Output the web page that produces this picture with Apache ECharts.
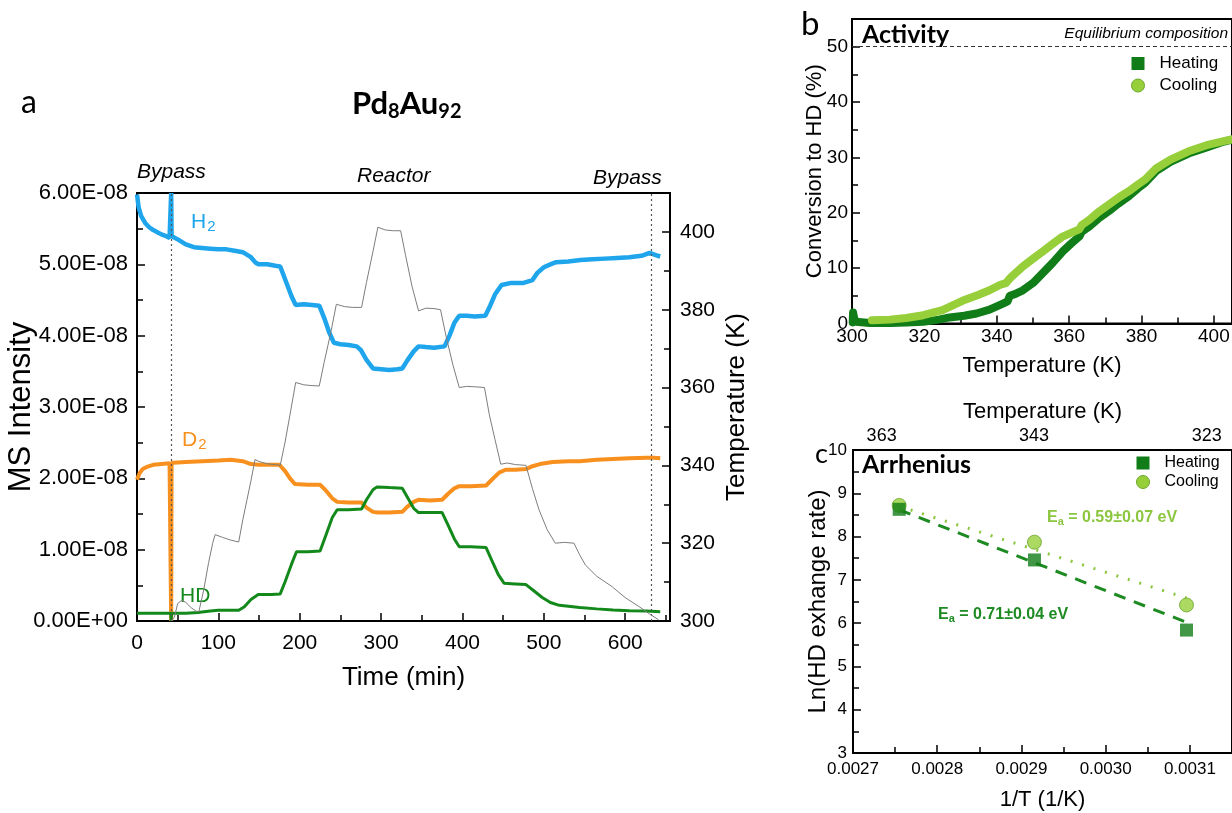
<!DOCTYPE html>
<html><head><meta charset="utf-8">
<script src="https://cdn.jsdelivr.net/npm/echarts@6/dist/echarts.min.js"></script>
<style>html,body{margin:0;padding:0;background:#fff}#c{width:1232px;height:813px}</style>
</head><body><div id="c"></div>
<script>
// ---------- Panel a : MS intensity (units of 1E-08) vs time (min) ----------
const h2Data = [[0,5.98],[2,5.80],[5,5.68],[10,5.58],[15,5.52],[20,5.48],[25,5.45],[30,5.42],[35,5.40],[40,5.37],[41.5,5.38],[42,6.0],[42.5,5.40],[45,5.38],[50,5.35],[60,5.28],[70,5.24],[80,5.23],[90,5.22],[100,5.21],[110,5.21],[120,5.19],[130,5.17],[140,5.10],[146,5.02],[150,5.00],[160,5.00],[170,4.98],[176,4.97],[180,4.85],[185,4.70],[190,4.55],[195,4.43],[205,4.44],[215,4.43],[224,4.42],[230,4.25],[236,4.05],[242,3.90],[250,3.88],[260,3.87],[270,3.85],[275,3.80],[282,3.66],[290,3.54],[300,3.53],[310,3.52],[320,3.53],[326,3.54],[332,3.65],[340,3.78],[346,3.85],[355,3.84],[365,3.83],[378,3.85],[384,4.00],[390,4.18],[396,4.28],[405,4.28],[415,4.27],[428,4.28],[434,4.42],[440,4.58],[448,4.71],[460,4.74],[475,4.74],[486,4.78],[492,4.88],[500,4.96],[508,5.00],[515,5.03],[530,5.04],[545,5.06],[560,5.07],[575,5.08],[590,5.09],[605,5.10],[620,5.12],[630,5.16],[635,5.14],[640,5.12],[643,5.11]];
const d2Data = [[0,1.98],[3,2.07],[7,2.13],[12,2.16],[20,2.19],[30,2.20],[40,2.21],[41.5,2.21],[42,0],[42.5,2.22],[45,2.22],[60,2.23],[80,2.24],[100,2.25],[115,2.26],[130,2.24],[140,2.20],[150,2.19],[165,2.19],[175,2.19],[182,2.10],[188,2.00],[194,1.92],[210,1.91],[225,1.91],[232,1.83],[240,1.72],[246,1.67],[260,1.66],[276,1.66],[282,1.59],[290,1.53],[296,1.52],[310,1.52],[326,1.53],[332,1.60],[340,1.67],[346,1.70],[360,1.69],[375,1.70],[382,1.78],[390,1.86],[396,1.89],[410,1.89],[429,1.90],[436,1.98],[445,2.08],[453,2.12],[465,2.12],[478,2.13],[486,2.17],[495,2.20],[511,2.23],[530,2.24],[544,2.24],[565,2.26],[585,2.27],[605,2.28],[626,2.29],[635,2.29],[643,2.28]];
const hdData = [[0,0.11],[41.5,0.11],[42,0.0],[42.5,0.11],[60,0.11],[75,0.12],[90,0.14],[100,0.15],[125,0.15],[132,0.20],[140,0.30],[149,0.37],[165,0.37],[176,0.38],[182,0.55],[190,0.80],[196,0.97],[210,0.97],[225,0.98],[232,1.20],[240,1.45],[246,1.56],[260,1.56],[276,1.57],[282,1.70],[290,1.84],[295,1.88],[310,1.87],[326,1.86],[333,1.72],[340,1.58],[346,1.52],[360,1.52],[375,1.52],[382,1.35],[390,1.15],[396,1.04],[410,1.04],[429,1.03],[436,0.85],[444,0.65],[451,0.53],[465,0.52],[478,0.51],[488,0.42],[498,0.33],[508,0.26],[519,0.22],[544,0.19],[565,0.17],[585,0.155],[605,0.145],[626,0.14],[643,0.13]];
const tempData = [[42,300],[46,301],[50,304.5],[55,305.3],[60,304.8],[66,303.5],[72,302.6],[76,302.4],[82,308],[88,315],[93,320],[96,322.2],[105,321.5],[115,320.8],[125,320.3],[130,326],[135,331],[140,336],[145,341.5],[150,341],[160,340.4],[170,340.2],[176,340],[182,346],[188,353],[195,361.3],[205,360.7],[215,360.5],[224,360.4],[230,366.5],[238,374],[245,381.4],[255,380.8],[265,380.6],[276,380.6],[282,387],[290,395],[296,401.2],[305,400.5],[315,400.3],[324,400.3],[330,394],[338,386],[346,379.7],[355,380.4],[365,380.3],[373,380],[380,373],[388,366],[396,360],[405,360.3],[415,360.2],[427,360],[433,353],[440,346.6],[447,340.3],[455,340.6],[465,340.2],[478,340],[486,334],[494,328.6],[504,323.5],[514,320],[525,320.2],[537,320],[544,317],[551,314.4],[565,311.5],[584,308.8],[600,306],[617,303.7],[630,301.8],[641,300.3]];
const bypassTimes = [42, 632];

// ---------- Panel b : conversion to HD (%) vs temperature (K) ----------
const heatingConv = [[300.2,0.2],[300.3,2.0],[300.6,1.0],[301,0.3],[305,0.1],[310.5,0.1],[315,0.2],[319.7,0.3],[324,0.7],[327,1.1],[331,1.4],[334.4,1.8],[338,2.5],[341.7,3.6],[343,4.0],[343.6,5.0],[345,5.3],[347.2,6.0],[350,7.3],[352.7,9.1],[355.5,11.0],[358.2,13.0],[360.5,14.4],[362.8,15.7],[363.5,16.6],[365.5,17.5],[368,18.9],[371,20.3],[373.5,21.6],[376.5,23.0],[379,24.4],[381,25.4],[384,27.5],[388,29.2],[393,30.7],[398,31.8],[402,32.7],[405,33.2]];
const coolingConv = [[305.5,0.6],[310.5,0.7],[315,1.0],[319.7,1.5],[325,2.4],[330.5,4.1],[335,5.2],[338,6.0],[341,7.0],[342.5,7.3],[343.3,7.9],[344,8.4],[347.2,10.3],[350,11.7],[352.7,13.0],[355.5,14.4],[358.2,15.7],[361,16.5],[362.8,17.0],[363.5,17.8],[365.5,18.7],[368,20.1],[371,21.5],[374,22.9],[376.5,23.9],[379,25.1],[381,26.0],[384,28.0],[388,29.6],[393,31.1],[398,32.2],[403,33.0],[406,33.4]];
const equilibriumLevel = 50;

// ---------- Panel c : Arrhenius ----------
const arrTemps = [363, 343, 323];
const heatingLn = [8.63, 7.46, 5.84];
const coolingLn = [8.72, 7.87, 6.42];
const heatingFitLn = [8.62, 6.02];   // fit line at first / last temperature
const coolingFitLn = [8.70, 6.58];
const topTempLabels = ['363', '343', '323'];
const topTempLabelPos = [0.002734, 0.002915, 0.003120];

// ---------- build ----------
const F = '"Liberation Sans", Arial, sans-serif';
const CAL = 'Lato, Calibri, sans-serif';
const invT = arrTemps.map(t => 1 / t);
const fitX = [invT[0], invT[invT.length - 1]];

function ax(extra) {
  const base = {
    type: 'value',
    nameMoveOverlap: false,
    axisLine: { show: true, onZero: false, lineStyle: { color: '#000', width: 2 } },
    axisTick: { show: true, inside: true, length: 8, lineStyle: { color: '#000', width: 1.5 } },
    minorTick: { show: true, splitNumber: 2, length: 6, lineStyle: { color: '#000', width: 1.5 } },
    splitLine: { show: false },
    nameLocation: 'middle',
    nameTextStyle: { fontFamily: F, color: '#000' },
    axisLabel: { color: '#000', fontFamily: F, showMaxLabel: false }
  };
  const o = Object.assign({}, base, extra);
  o.axisLabel = Object.assign({}, base.axisLabel, extra.axisLabel || {});
  o.nameTextStyle = Object.assign({}, base.nameTextStyle, extra.nameTextStyle || {});
  if (extra.axisTick) o.axisTick = Object.assign({}, base.axisTick, extra.axisTick);
  return o;
}

const gridBox = { show: true, borderColor: '#000', borderWidth: 2, backgroundColor: 'transparent',
                  containLabel: false, outerBoundsMode: 'none' };

const option = {
  animation: false,
  backgroundColor: '#fff',
  grid: [
    Object.assign({ left: 137, right: 562, top: 193, bottom: 192 }, gridBox),
    Object.assign({ left: 852, right: 0, top: 19, bottom: 489.5 }, gridBox),
    Object.assign({ left: 853, right: 0, top: 450, bottom: 60 }, gridBox)
  ],
  xAxis: [
    ax({ gridIndex: 0, min: 0, max: 655, interval: 100, name: 'Time (min)', nameGap: 44,
         nameTextStyle: { fontSize: 26 }, axisLabel: { fontSize: 21, margin: 12 } }),
    ax({ gridIndex: 1, min: 300, max: 405, interval: 20, name: 'Temperature (K)', nameGap: 31,
         nameTextStyle: { fontSize: 22 }, axisLabel: { fontSize: 19, margin: 4 } }),
    ax({ gridIndex: 2, min: 0.0027, max: 0.00315, interval: 0.0001, name: '1/T (1/K)', nameGap: 36,
         nameTextStyle: { fontSize: 22 }, axisLabel: { fontSize: 17, margin: 8, formatter: v => v.toFixed(4) } }),
    ax({ gridIndex: 2, position: 'top', min: 0.0027, max: 0.00315, name: 'Temperature (K)', nameGap: 27,
         nameTextStyle: { fontSize: 22 },
         axisTick: { show: false }, minorTick: { show: false },
         axisLabel: { fontSize: 18, margin: 5, showMaxLabel: true, customValues: topTempLabelPos,
                      formatter: v => { const i = topTempLabelPos.indexOf(v); return i >= 0 ? topTempLabels[i] : ''; } } })
  ],
  yAxis: [
    ax({ gridIndex: 0, min: 0, max: 6, interval: 1, name: 'MS Intensity', nameGap: 100,
         nameTextStyle: { fontSize: 31 },
         axisLabel: { fontSize: 22, margin: 9, showMaxLabel: true, formatter: v => v === 0 ? '0.00E+00' : v.toFixed(2) + 'E-08' } }),
    ax({ gridIndex: 0, position: 'right', min: 300, max: 410, interval: 20, name: 'Temperature (K)', nameGap: 54,
         nameRotate: 90, nameTextStyle: { fontSize: 26 }, axisLabel: { fontSize: 21, margin: 10 } }),
    ax({ gridIndex: 1, min: 0, max: 55, interval: 10, name: 'Conversion to HD (%)', nameGap: 26,
         nameTextStyle: { fontSize: 22 }, axisLabel: { fontSize: 19, margin: 4 } }),
    ax({ gridIndex: 2, min: 3, max: 10, interval: 1, name: 'Ln(HD exhange rate)', nameGap: 23,
         nameTextStyle: { fontSize: 24 }, axisLabel: { fontSize: 17, margin: 6, showMaxLabel: true } })
  ],
  legend: [
    { data: [{ name: 'Heating', icon: 'rect' }, { name: 'Cooling', icon: 'circle', itemStyle: { borderColor: '#6aa52a', borderWidth: 1 } }],
      left: 1126, top: 50, orient: 'vertical', itemWidth: 13, itemHeight: 13, itemGap: 5, selectedMode: false,
      textStyle: { fontFamily: F, fontSize: 17, color: '#000', padding: [0, 0, 0, 10] } },
    { data: [{ name: 'Heating', icon: 'rect' }, { name: 'Cooling', icon: 'circle', itemStyle: { borderColor: '#6aa52a', borderWidth: 1 } }],
      left: 1131, top: 450, orient: 'vertical', itemWidth: 13, itemHeight: 13, itemGap: 3, selectedMode: false,
      textStyle: { fontFamily: F, fontSize: 16, color: '#000', padding: [0, 0, 0, 10] } }
  ],
  series: [
    { name: 'H2', type: 'line', xAxisIndex: 0, yAxisIndex: 0, data: h2Data, showSymbol: false, symbol: 'none',
      lineStyle: { color: '#1ea5ec', width: 4.5 }, itemStyle: { color: '#1ea5ec' },
      markLine: { silent: true, symbol: 'none', label: { show: false },
                  lineStyle: { color: '#555', width: 1.2, type: [2, 3] },
                  data: bypassTimes.map(t => ({ xAxis: t })) } },
    { name: 'D2', type: 'line', xAxisIndex: 0, yAxisIndex: 0, data: d2Data, showSymbol: false, symbol: 'none',
      lineStyle: { color: '#f7901e', width: 4 }, itemStyle: { color: '#f7901e' } },
    { name: 'HD', type: 'line', xAxisIndex: 0, yAxisIndex: 0, data: hdData, showSymbol: false, symbol: 'none',
      lineStyle: { color: '#12891a', width: 3 }, itemStyle: { color: '#12891a' } },
    { name: 'T', type: 'line', xAxisIndex: 0, yAxisIndex: 1, data: tempData, showSymbol: false, symbol: 'none', z: 5,
      lineStyle: { color: '#7d7d7d', width: 1 }, itemStyle: { color: '#7d7d7d' } },

    { name: 'Heating', type: 'line', xAxisIndex: 1, yAxisIndex: 2, data: heatingConv, showSymbol: false, symbol: 'none',
      lineStyle: { color: '#117d18', width: 8, cap: 'round', join: 'round' }, itemStyle: { color: '#117d18' },
      markLine: { silent: true, symbol: 'none', label: { show: false },
                  lineStyle: { color: '#333', width: 1, type: [4, 3] }, data: [{ yAxis: equilibriumLevel }] } },
    { name: 'Cooling', type: 'line', xAxisIndex: 1, yAxisIndex: 2, data: coolingConv, showSymbol: false, symbol: 'none',
      lineStyle: { color: '#97cf3a', width: 8, cap: 'round', join: 'round' }, itemStyle: { color: '#97cf3a' } },

    { name: 'fitH', type: 'line', xAxisIndex: 2, yAxisIndex: 3, data: fitX.map((x, i) => [x, heatingFitLn[i]]),
      showSymbol: false, symbol: 'none', lineStyle: { color: '#1e8a22', width: 3, type: [12, 9] } },
    { name: 'fitC', type: 'line', xAxisIndex: 2, yAxisIndex: 3, data: fitX.map((x, i) => [x, coolingFitLn[i]]),
      showSymbol: false, symbol: 'none', lineStyle: { color: '#8cc63f', width: 3, type: [2, 10] } },
    { name: 'Heating', type: 'scatter', xAxisIndex: 2, yAxisIndex: 3, data: invT.map((x, i) => [x, heatingLn[i]]),
      symbol: 'rect', symbolSize: 13, itemStyle: { color: '#117d18' }, z: 4 },
    { name: 'Cooling', type: 'scatter', xAxisIndex: 2, yAxisIndex: 3, data: invT.map((x, i) => [x, coolingLn[i]]),
      symbol: 'circle', symbolSize: 14, itemStyle: { color: '#97cf3a', borderColor: '#6aa52a', borderWidth: 1 }, z: 3 }
  ],
  graphic: [
    { type: 'text', x: 21, y: 103, style: { text: 'a', fontFamily: CAL, fontSize: 32, fill: '#000', verticalAlign: 'middle' } },
    { type: 'text', x: 352, y: 104, style: { text: 'Pd{s|8}Au{s|92}', fontFamily: CAL, fontWeight: 'bold', fontSize: 31, fill: '#000', verticalAlign: 'middle',
        rich: { s: { fontFamily: CAL, fontWeight: 'bold', fontSize: 20, padding: [16, 0, 0, 0] } } } },
    { type: 'text', x: 137, y: 172, style: { text: 'Bypass', fontFamily: F, fontStyle: 'italic', fontSize: 21, fill: '#000', verticalAlign: 'middle' } },
    { type: 'text', x: 357, y: 176, style: { text: 'Reactor', fontFamily: F, fontStyle: 'italic', fontSize: 21, fill: '#000', verticalAlign: 'middle' } },
    { type: 'text', x: 593, y: 178, style: { text: 'Bypass', fontFamily: F, fontStyle: 'italic', fontSize: 21, fill: '#000', verticalAlign: 'middle' } },
    { type: 'text', x: 191, y: 222, style: { text: 'H{s|2}', fontFamily: F, fontSize: 21, fill: '#1ea5ec', verticalAlign: 'middle',
        rich: { s: { fontFamily: F, fontSize: 15, fill: '#1ea5ec', padding: [10, 0, 0, 1] } } } },
    { type: 'text', x: 182, y: 440, style: { text: 'D{s|2}', fontFamily: F, fontSize: 21, fill: '#f7901e', verticalAlign: 'middle',
        rich: { s: { fontFamily: F, fontSize: 15, fill: '#f7901e', padding: [10, 0, 0, 1] } } } },
    { type: 'text', x: 180, y: 596, style: { text: 'HD', fontFamily: F, fontSize: 21, fill: '#12891a', verticalAlign: 'middle' } },

    { type: 'text', x: 801, y: 24, style: { text: 'b', fontFamily: CAL, fontSize: 33, fill: '#000', verticalAlign: 'middle' } },
    { type: 'text', x: 862, y: 35, style: { text: 'Activity', fontFamily: CAL, fontWeight: 'bold', fontSize: 25, fill: '#000', verticalAlign: 'middle' } },
    { type: 'text', x: 1228, y: 34, style: { text: 'Equilibrium composition', fontFamily: F, fontStyle: 'italic', fontSize: 15.5, fill: '#000', align: 'right', verticalAlign: 'middle' } },

    { type: 'text', x: 815, y: 454, style: { text: 'c', fontFamily: CAL, fontSize: 27, fill: '#000', verticalAlign: 'middle' } },
    { type: 'text', x: 862, y: 465, style: { text: 'Arrhenius', fontFamily: CAL, fontWeight: 'bold', fontSize: 25, fill: '#000', verticalAlign: 'middle' } },
    { type: 'text', x: 1047, y: 518, style: { text: 'E{s|a} = 0.59±0.07 eV', fontFamily: F, fontWeight: 'bold', fontSize: 16, fill: '#8cc63f', verticalAlign: 'middle',
        rich: { s: { fontFamily: F, fontWeight: 'bold', fontSize: 11, fill: '#8cc63f', padding: [8, 0, 0, 0] } } } },
    { type: 'text', x: 938, y: 615, style: { text: 'E{s|a} = 0.71±0.04 eV', fontFamily: F, fontWeight: 'bold', fontSize: 16, fill: '#1e8a22', verticalAlign: 'middle',
        rich: { s: { fontFamily: F, fontWeight: 'bold', fontSize: 11, fill: '#1e8a22', padding: [8, 0, 0, 0] } } } }
  ]
};

const chart = echarts.init(document.getElementById('c'));
chart.setOption(option);
</script>
</body></html>
